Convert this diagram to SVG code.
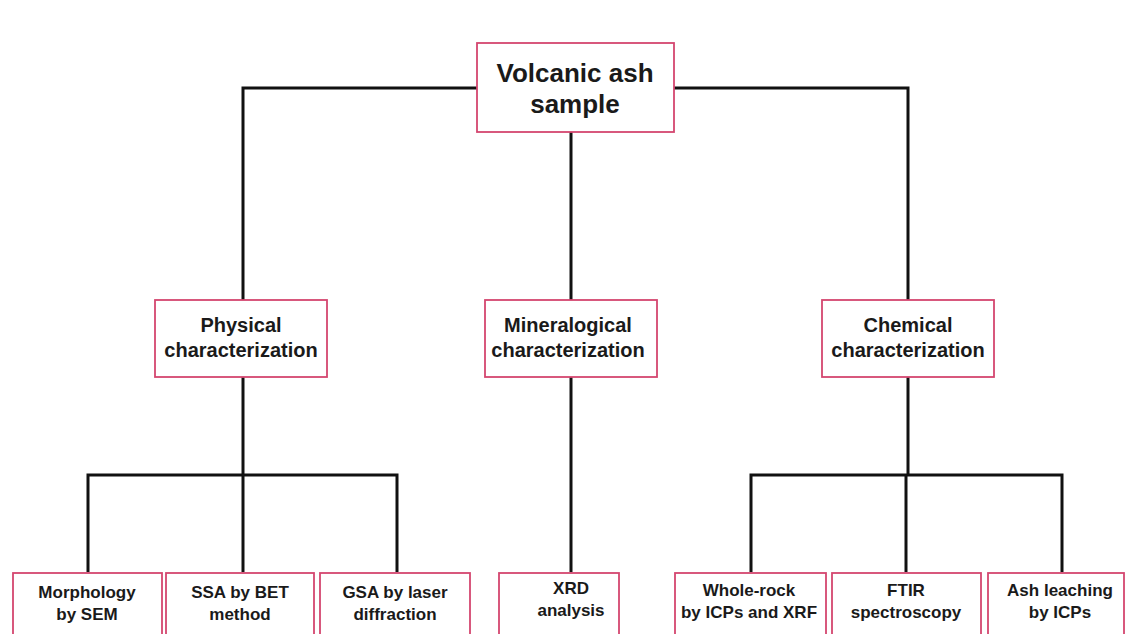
<svg xmlns="http://www.w3.org/2000/svg" width="1126" height="634" viewBox="0 0 1126 634">
<style>
.box{fill:#fff;stroke:#d4466f;stroke-width:1.8}
.t{font-family:"Liberation Sans",Arial,sans-serif;font-weight:bold;fill:#1a1a1a;text-anchor:middle}
.t1{font-size:26px}
.t2{font-size:20px}
.t3{font-size:17px}
.c{fill:none;stroke:#111;stroke-width:3;stroke-linejoin:miter}
</style>
<rect width="1126" height="634" fill="#fff"/>
<g id="connectors">
<path class="c" d="M477 88 H243 V300"/>
<path class="c" d="M674 88 H908 V300"/>
<path class="c" d="M571 132 V300"/>
<path class="c" d="M243 377 V475"/>
<path class="c" d="M88 572 V475 H397 V572"/>
<path class="c" d="M243 475 V572"/>
<path class="c" d="M571 377 V572"/>
<path class="c" d="M908 377 V475"/>
<path class="c" d="M751 572 V475 H1062 V572"/>
<path class="c" d="M906 475 V572"/>
</g>
<g id="root"><rect class="box" x="477" y="43" width="197" height="89"/>
<text class="t t1" x="575" y="82">Volcanic ash</text><text class="t t1" x="575" y="113">sample</text></g>
<g id="physical"><rect class="box" x="155" y="300" width="172" height="77"/>
<text class="t t2" x="241" y="332">Physical</text><text class="t t2" x="241" y="357">characterization</text></g>
<g id="mineralogical"><rect class="box" x="485" y="300" width="172" height="77"/>
<text class="t t2" x="568" y="332">Mineralogical</text><text class="t t2" x="568" y="357">characterization</text></g>
<g id="chemical"><rect class="box" x="822" y="300" width="172" height="77"/>
<text class="t t2" x="908" y="332">Chemical</text><text class="t t2" x="908" y="357">characterization</text></g>
<g id="morphology"><rect class="box" x="13" y="573" width="149" height="70"/>
<text class="t t3" x="87" y="598">Morphology</text><text class="t t3" x="87" y="620">by SEM</text></g>
<g id="ssa"><rect class="box" x="166" y="573" width="148" height="70"/>
<text class="t t3" x="240" y="598">SSA by BET</text><text class="t t3" x="240" y="620">method</text></g>
<g id="gsa"><rect class="box" x="320" y="573" width="150" height="70"/>
<text class="t t3" x="395" y="598">GSA by laser</text><text class="t t3" x="395" y="620">diffraction</text></g>
<g id="xrd"><rect class="box" x="499" y="573" width="120" height="70"/>
<text class="t t3" x="571" y="594">XRD</text><text class="t t3" x="571" y="616">analysis</text></g>
<g id="wholerock"><rect class="box" x="675" y="573" width="151" height="70"/>
<text class="t t3" x="749" y="596">Whole-rock</text><text class="t t3" x="749" y="618">by ICPs and XRF</text></g>
<g id="ftir"><rect class="box" x="832" y="573" width="149" height="70"/>
<text class="t t3" x="906" y="596">FTIR</text><text class="t t3" x="906" y="618">spectroscopy</text></g>
<g id="leaching"><rect class="box" x="988" y="573" width="136" height="70"/>
<text class="t t3" x="1060" y="596">Ash leaching</text><text class="t t3" x="1060" y="618">by ICPs</text></g>
</svg>
